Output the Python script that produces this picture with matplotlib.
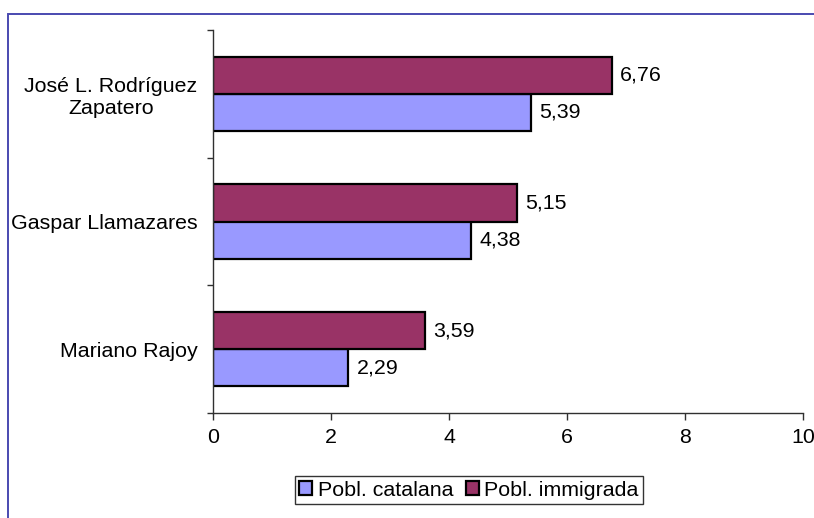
import matplotlib.pyplot as plt
from matplotlib.patches import Rectangle
import numpy as np

plt.rcParams['font.family'] = ['Liberation Sans', 'DejaVu Sans']

# data, bottom to top
candidates = ['Mariano Rajoy', 'Gaspar Llamazares', 'José L. Rodríguez\nZapatero']
catalana = [2.29, 4.38, 5.39]
immigrada = [3.59, 5.15, 6.76]
series_names = ['Pobl. catalana', 'Pobl. immigrada']
xticks = [0, 2, 4, 6, 8, 10]

FS = 15.4

fig = plt.figure(figsize=(8.14, 5.18), dpi=100)
ax = fig.add_axes([213 / 814, 1 - 413 / 518, 590 / 814, 383 / 518])

# outer chart border (runs off the right and bottom of the image)
fig.patches.append(Rectangle((8 / 814, -0.1), 1.2, 1 - 14 / 518 + 0.1,
                             transform=fig.transFigure, fill=False,
                             edgecolor='#4a4ab0', linewidth=1.4))

y = np.arange(len(candidates))
h = 0.29
b1 = ax.barh(y - h / 2, catalana, height=h, color='#9999ff',
             edgecolor='black', linewidth=1.6, label=series_names[0])
b2 = ax.barh(y + h / 2, immigrada, height=h, color='#993366',
             edgecolor='black', linewidth=1.6, label=series_names[1])

for bars, vals in ((b1, catalana), (b2, immigrada)):
    for bar, v in zip(bars, vals):
        ax.annotate(f'{v:.2f}'.replace('.', ','),
                    (v, bar.get_y() + bar.get_height() / 2),
                    xytext=(6, 0), textcoords='offset points',
                    va='center', ha='left', fontsize=FS)

ax.set_xlim(0, 10)
ax.set_ylim(-0.5, len(candidates) - 0.5)
ax.set_xticks(xticks)
ax.set_xticklabels([str(t) for t in xticks], fontsize=FS)
ax.set_yticks(y)
ax.set_yticklabels(candidates, fontsize=FS, multialignment='center')
ax.set_yticks(np.arange(-0.5, len(candidates)), minor=True)
ax.tick_params(axis='y', which='major', length=0, pad=11)
ax.tick_params(axis='y', which='minor', length=4, width=1, color='#303030')
ax.tick_params(axis='x', length=5, width=1, color='#303030', pad=6)
for lbl in ax.get_xticklabels():
    lbl.set_clip_on(False)

for s in ('top', 'right'):
    ax.spines[s].set_visible(False)
for s in ('left', 'bottom'):
    ax.spines[s].set_color('#303030')
    ax.spines[s].set_linewidth(1)

leg = fig.legend(loc='center', bbox_to_anchor=(469 / 814, 1 - 490 / 518),
                 ncol=2, fontsize=FS, frameon=True, fancybox=False,
                 handlelength=0.6, handleheight=0.6, handletextpad=0.25,
                 columnspacing=0.6, borderpad=0.2, borderaxespad=0)
leg.get_frame().set_edgecolor('black')
leg.get_frame().set_linewidth(1)

fig.savefig('out.png', dpi=100)
